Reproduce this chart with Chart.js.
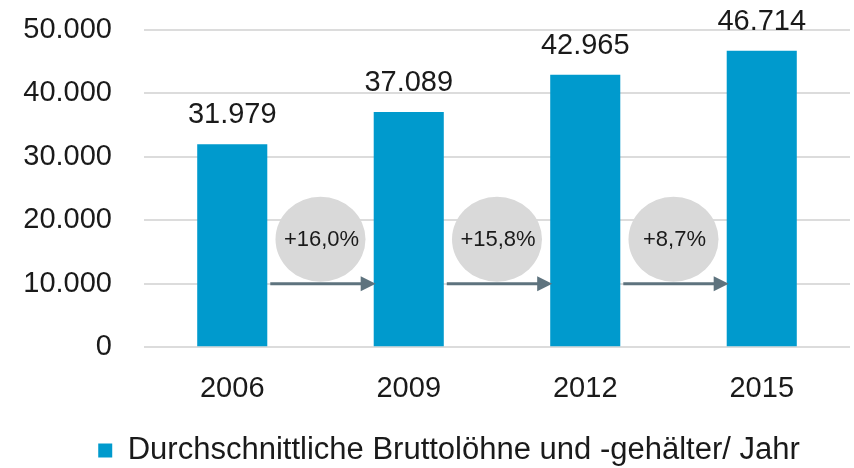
<!DOCTYPE html>
<html><head><meta charset="utf-8">
<script src="https://cdn.jsdelivr.net/npm/chart.js@4"></script>
<style>html,body{margin:0;padding:0;background:#fff}#wrap{width:854px;height:468px;position:relative}</style>
</head><body><div id="wrap"><canvas id="c"></canvas></div>
<script>
const categories = ['2006', '2009', '2012', '2015'];
const wages = [31979, 37089, 42965, 46714];
const growthLabels = ['+16,0%', '+15,8%', '+8,7%'];
const seriesName = 'Durchschnittliche Bruttolöhne und -gehälter/ Jahr';
const yMin = 0, yMax = 50000, yStep = 10000;
const circleLevel = 17000;
const arrowLevel = 10000;

const FONT = '"Liberation Sans", Arial, sans-serif';
const fmt = v => String(v).replace(/\B(?=(\d{3})+(?!\d))/g, '.');

const annot = {
  id: 'annot',
  afterLayout(chart) {
    if (chart.legend) chart.legend.left += 48;
  },
  afterDatasetsDraw(chart) {
    const ctx = chart.ctx, ys = chart.scales.y;
    const meta = chart.getDatasetMeta(0);
    ctx.save();
    ctx.font = '29px ' + FONT;
    ctx.fillStyle = '#1a1a1a';
    ctx.textAlign = 'center';
    ctx.textBaseline = 'alphabetic';
    meta.data.forEach((bar, i) => ctx.fillText(fmt(wages[i]), bar.x, bar.y - 21));
    for (let i = 0; i < growthLabels.length; i++) {
      const b0 = meta.data[i], b1 = meta.data[i + 1];
      const cx = (b0.x + b1.x) / 2, cy = ys.getPixelForValue(circleLevel);
      ctx.fillStyle = '#d9d9d9';
      ctx.beginPath(); ctx.ellipse(cx, cy, 45, 42.5, 0, 0, Math.PI * 2); ctx.fill();
      ctx.fillStyle = '#1a1a1a';
      ctx.font = '22px ' + FONT;
      ctx.textBaseline = 'middle';
      ctx.fillText(growthLabels[i], cx + 1, cy + 1);
      const ay = ys.getPixelForValue(arrowLevel);
      const x0 = b0.x + b0.width / 2 + 3, x1 = b1.x - b1.width / 2 + 2;
      ctx.strokeStyle = '#5e737e'; ctx.fillStyle = '#5e737e'; ctx.lineWidth = 3;
      ctx.beginPath(); ctx.moveTo(x0, ay); ctx.lineTo(x1 - 13, ay); ctx.stroke();
      ctx.beginPath(); ctx.moveTo(x1, ay); ctx.lineTo(x1 - 15, ay - 7.5); ctx.lineTo(x1 - 15, ay + 7.5); ctx.closePath(); ctx.fill();
    }
    ctx.restore();
  }
};

new Chart(document.getElementById('c'), {
  type: 'bar',
  data: {
    labels: categories,
    datasets: [{
      label: seriesName,
      data: wages,
      backgroundColor: '#009acd',
      borderWidth: 0,
      barPercentage: 0.397,
      categoryPercentage: 1
    }]
  },
  options: {
    responsive: true,
    maintainAspectRatio: false,
    animation: false,
    layout: { padding: { top: 30, left: 0, right: 4, bottom: -8 } },
    plugins: {
      tooltip: { enabled: false },
      legend: {
        position: 'bottom',
        labels: { boxWidth: 14, boxHeight: 14, padding: 13, color: '#1a1a1a', font: { family: FONT, size: 31 } }
      }
    },
    scales: {
      x: {
        grid: { display: false },
        border: { display: false },
        ticks: { color: '#1a1a1a', font: { family: FONT, size: 29 }, padding: 16 }
      },
      y: {
        min: yMin, max: yMax,
        afterFit: s => { s.width = 144; s.paddingTop = 0; s.paddingBottom = 0; },
        grid: { color: '#dcdcdc', lineWidth: 2, drawTicks: false },
        border: { display: false },
        ticks: { stepSize: yStep, color: '#1a1a1a', padding: 32, font: { family: FONT, size: 29 }, callback: v => fmt(v) }
      }
    }
  },
  plugins: [annot]
});
</script>
</body></html>
